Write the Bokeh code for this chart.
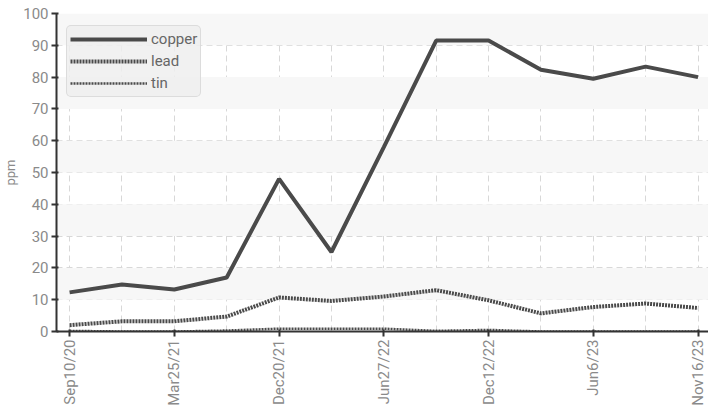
from bokeh.plotting import figure
from bokeh.models import FixedTicker, Range1d, Legend, LegendItem, BoxAnnotation
from bokeh.embed import file_html
from bokeh.resources import INLINE

dates = ["Sep10/20", "Dec17/20", "Mar25/21", "Jul1/21", "Dec20/21", "Mar28/22",
         "Jun27/22", "Sep19/22", "Dec12/22", "Mar13/23", "Jun6/23", "Aug28/23", "Nov16/23"]
copper = [12.3, 14.8, 13.2, 17, 48, 25, 58, 91.5, 91.5, 82.3, 79.5, 83.3, 80]
lead = [2, 3.2, 3.2, 4.7, 10.7, 9.6, 11, 13, 9.8, 5.7, 7.7, 8.8, 7.4]
tin = [0.2, 0, 0, 0.3, 0.9, 0.9, 0.9, 0.2, 0.5, 0, 0, 0, 0]
y_ticks = list(range(0, 101, 10))

xs = list(range(len(dates)))
FONT = "Roboto"
GRAY = "#8a8a8a"
LINE = "#4a4a4a"

p = figure(width=708, height=408, output_backend="svg", toolbar_location=None,
           x_range=Range1d(-0.25, 12.2), y_range=Range1d(0, 100),
           min_border_left=0, min_border_right=0, min_border_top=13, min_border_bottom=10)
p.outline_line_color = None

for lo in y_ticks[1::2]:
    p.add_layout(BoxAnnotation(bottom=lo, top=lo + 10, fill_color="#f7f7f7", fill_alpha=1,
                               line_color=None, level="underlay"))

r1 = p.line(xs, copper, line_color=LINE, line_width=4)
r2 = p.line(xs, lead, line_color=LINE, line_width=4, line_dash="2 1")
r3 = p.line(xs, tin, line_color=LINE, line_width=2.5, line_dash="2 1")

p.xaxis.ticker = FixedTicker(ticks=xs[::2])
p.xaxis.major_label_overrides = {i: dates[i] for i in xs}
p.xaxis.major_label_orientation = 1.5708
p.xgrid.ticker = FixedTicker(ticks=xs)
p.yaxis.ticker = FixedTicker(ticks=y_ticks)

for ax in (p.xaxis, p.yaxis):
    ax.axis_line_color = "#333333"
    ax.axis_line_width = 2
    ax.major_tick_line_color = "#333333"
    ax.major_tick_line_width = 2
    ax.major_tick_in = 2
    ax.major_tick_out = 5
    ax.minor_tick_line_color = None
    ax.major_label_text_font = FONT
    ax.major_label_text_font_size = "15px"
    ax.major_label_text_color = GRAY
    ax.major_label_standoff = 3

p.yaxis.axis_label = "ppm"
p.yaxis.axis_label_text_font = FONT
p.yaxis.axis_label_text_font_size = "13px"
p.yaxis.axis_label_text_font_style = "normal"
p.yaxis.axis_label_text_color = GRAY
p.yaxis.axis_label_standoff = 2

for g in (p.xgrid, p.ygrid):
    g.grid_line_color = "#d8d8d8"
    g.grid_line_dash = "6 4"
    g.grid_line_width = 1

legend = Legend(items=[LegendItem(label="copper", renderers=[r1]),
                       LegendItem(label="lead", renderers=[r2]),
                       LegendItem(label="tin", renderers=[r3])],
                location=(10, 234))
legend.glyph_width = 77
legend.glyph_height = 20
legend.label_height = 20
legend.spacing = 2
legend.label_standoff = 4
legend.label_text_font = FONT
legend.label_text_font_size = "15px"
legend.label_text_color = "#666666"
legend.background_fill_color = "#eeeeee"
legend.background_fill_alpha = 0.85
legend.border_line_color = "#c8c8c8"
legend.padding = 3
legend.margin = 0
legend.border_radius = 5
p.add_layout(legend)

open("out.html", "w").write(file_html(p, INLINE))
